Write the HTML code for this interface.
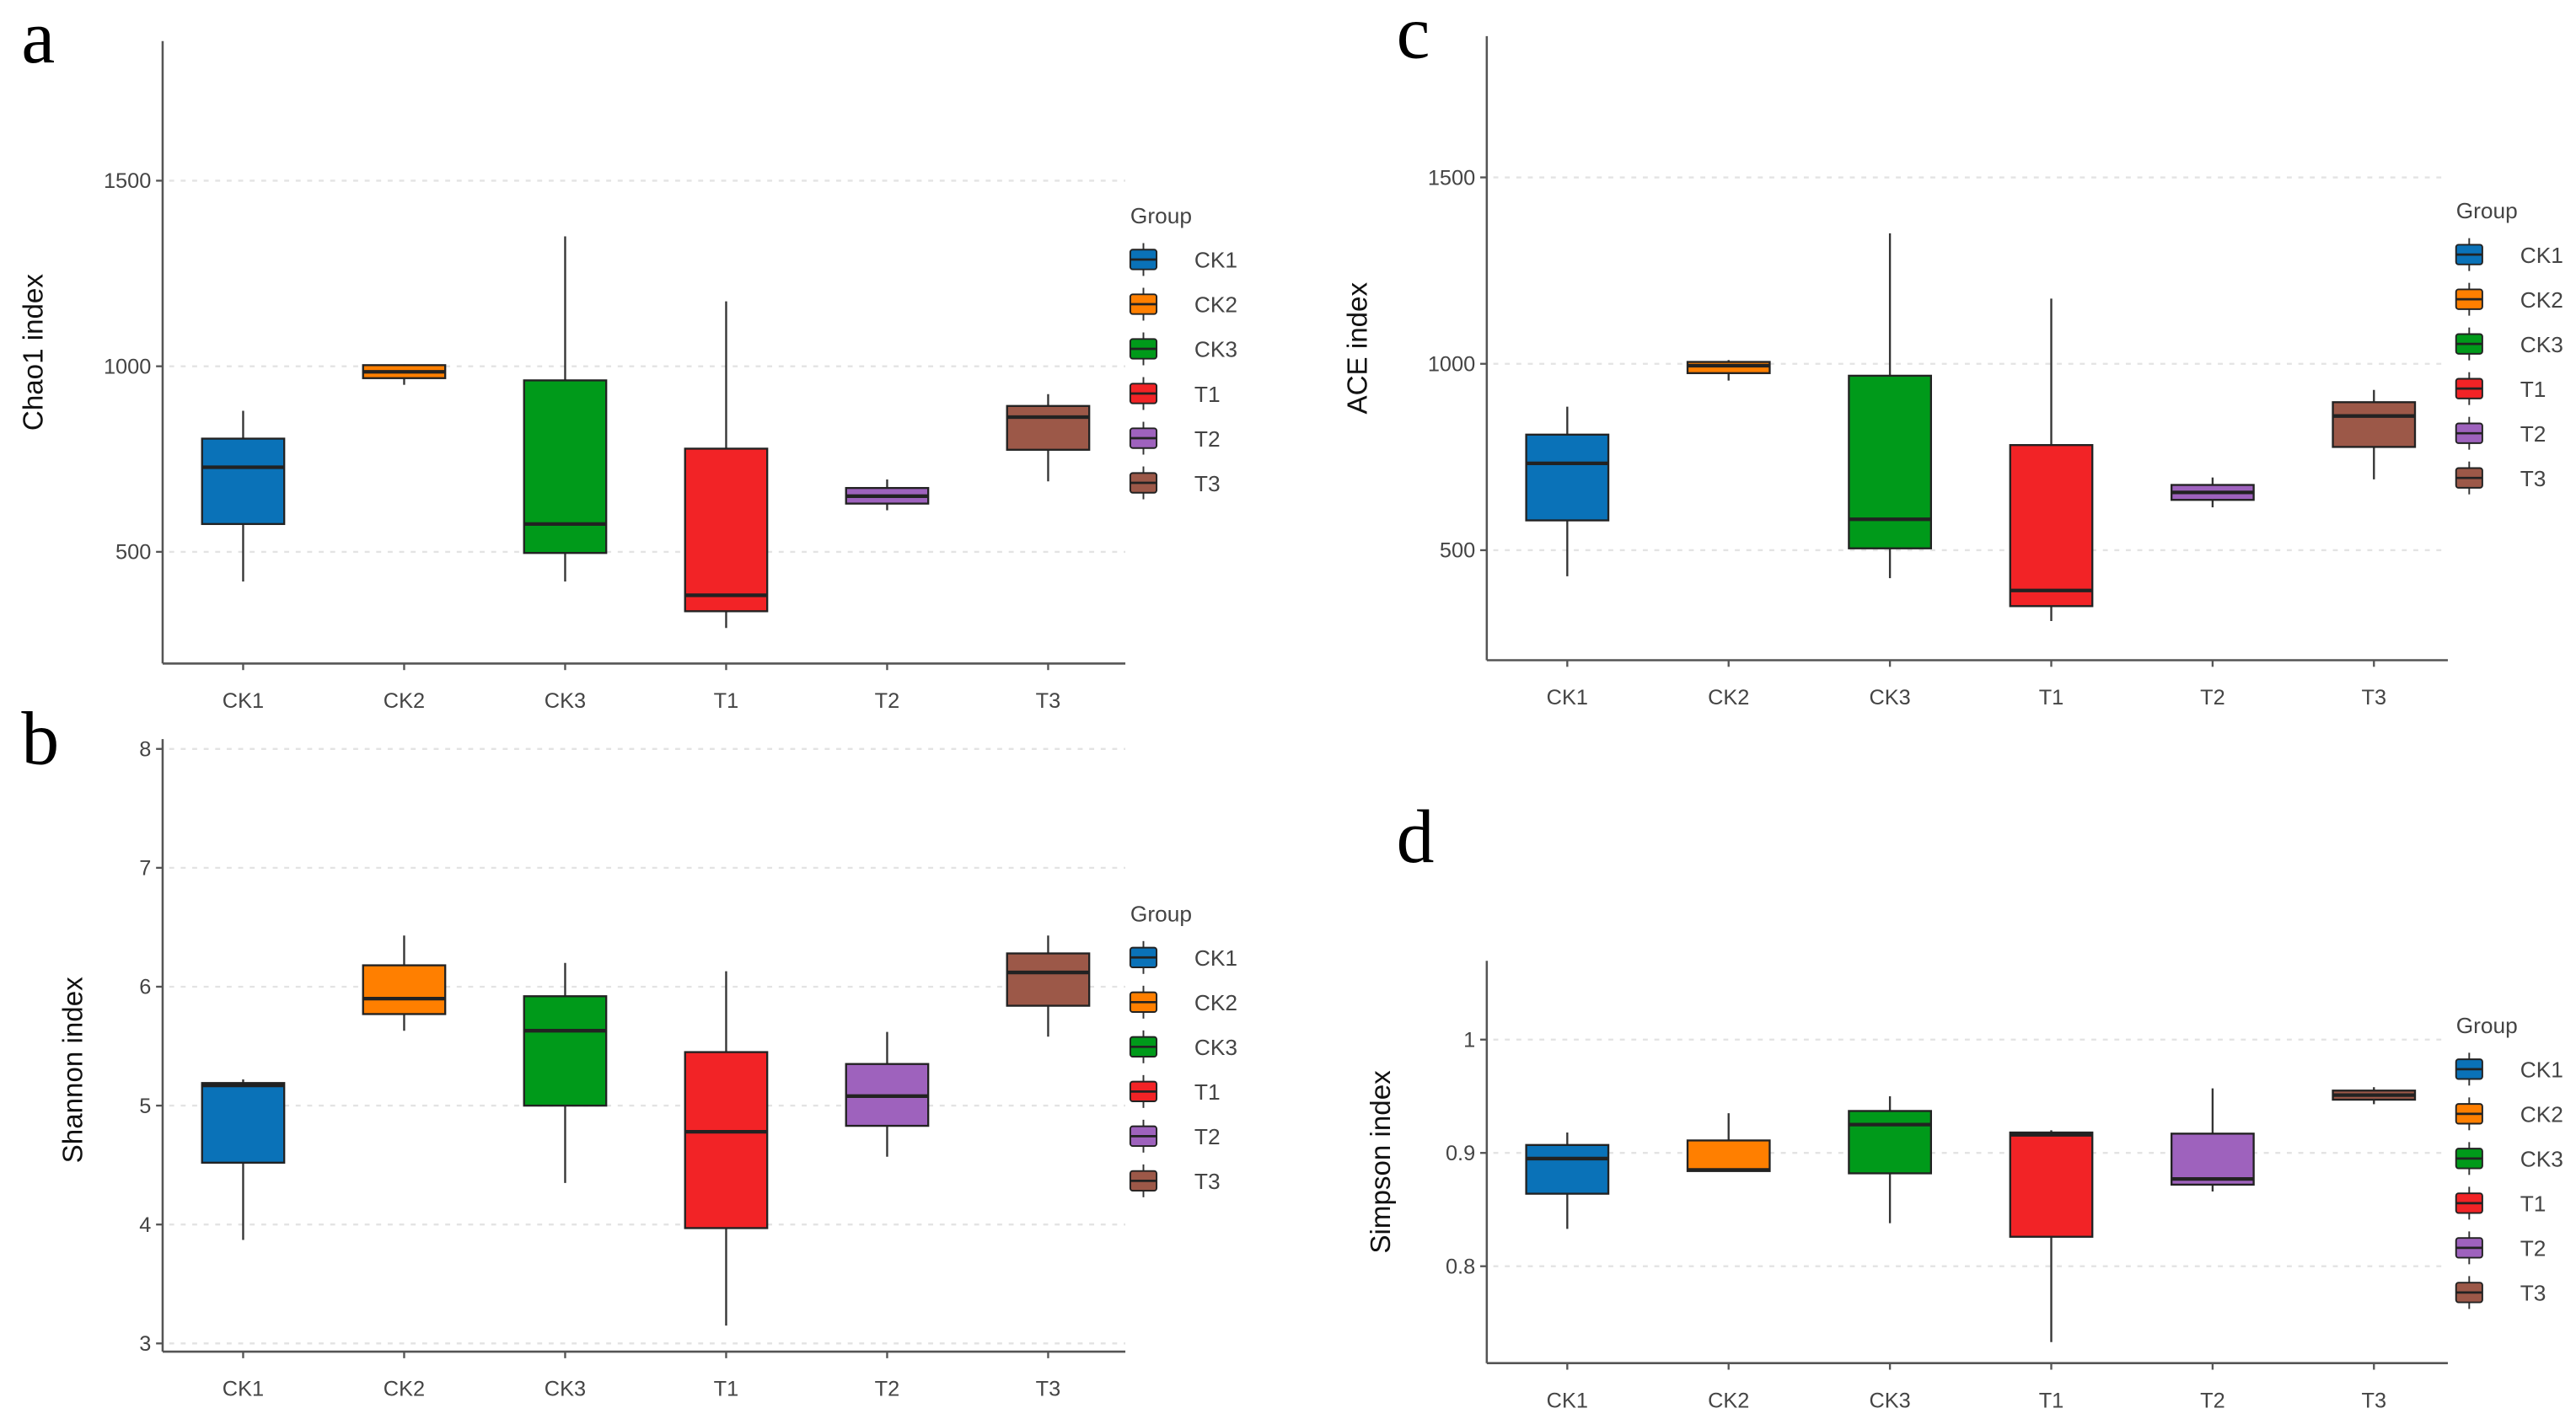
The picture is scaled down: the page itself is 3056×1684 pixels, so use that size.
<!DOCTYPE html>
<html><head><meta charset="utf-8">
<style>
html,body{margin:0;padding:0;background:#fff;}
svg{display:block;}
text{font-family:"Liberation Sans",sans-serif;}
text.serif{font-family:"Liberation Serif",serif;}
</style></head>
<body>
<svg id="fig" width="3056" height="1684" viewBox="0 0 1568 864" xmlns="http://www.w3.org/2000/svg"></svg>
<script>
const groups = ["CK1","CK2","CK3","T1","T2","T3"];
const colors = ["#0a72b8","#ff7f00","#009a1a","#f22326","#9e62bd","#9c5848"];
// [whiskerLow, q1, median, q3, whiskerHigh]
const chao1Values = [[420,575,728,805,880],[950,968,985,1003,1005],[420,497,575,962,1350],[295,340,383,778,1175],[612,630,650,672,695],[690,775,863,893,925]];
const aceValues = [[430,580,733,810,885],[955,975,995,1005,1010],[425,505,583,968,1350],[310,350,392,782,1175],[615,635,655,675,695],[690,777,860,897,930]];
const shannonValues = [[3.87,4.52,5.17,5.19,5.22],[5.63,5.77,5.9,6.18,6.43],[4.35,5.0,5.63,5.92,6.2],[3.15,3.97,4.78,5.45,6.13],[4.57,4.83,5.08,5.35,5.62],[5.58,5.84,6.12,6.28,6.43]];
const simpsonValues = [[0.833,0.864,0.895,0.907,0.918],[0.884,0.884,0.885,0.911,0.935],[0.838,0.882,0.925,0.937,0.95],[0.733,0.826,0.916,0.918,0.92],[0.866,0.872,0.877,0.917,0.957],[0.943,0.947,0.951,0.955,0.958]];
const chaoTicks = [500,1000,1500];
const aceTicks = [500,1000,1500];
const shannonTicks = [3,4,5,6,7,8];
const simpsonTicks = [0.8,0.9,1];
const simpsonTickLabels = ["0.8","0.9","1"];

const NS="http://www.w3.org/2000/svg";
const svg=document.getElementById('fig');
function el(tag,attrs,parent){const e=document.createElementNS(NS,tag);for(const k in attrs)e.setAttribute(k,attrs[k]);(parent||svg).appendChild(e);return e;}

const panels=[
 {id:'a',letter:'a',lx:13,ly:38,title:'Chao1 index',data:chao1Values,ticks:chaoTicks,labels:null,ax:99,top:25,bottom:404,right:685,v0:500,y0:336,v1:1500,y1:110,cx0:148,dx:98,legX:688,legY:131,titleX:20},
 {id:'b',letter:'b',lx:13,ly:465,title:'Shannon index',data:shannonValues,ticks:shannonTicks,labels:null,ax:99,top:450,bottom:823,right:685,v0:3,y0:818,v1:8,y1:456,cx0:148,dx:98,legX:688,legY:556,titleX:44},
 {id:'c',letter:'c',lx:850,ly:35,title:'ACE index',data:aceValues,ticks:aceTicks,labels:null,ax:905,top:22,bottom:402,right:1490,v0:500,y0:335,v1:1500,y1:108,cx0:954,dx:98.2,legX:1495,legY:128,titleX:826},
 {id:'d',letter:'d',lx:850,ly:525,title:'Simpson index',data:simpsonValues,ticks:simpsonTicks,labels:simpsonTickLabels,ax:905,top:585,bottom:830,right:1490,v0:0.8,y0:771,v1:1,y1:633,cx0:954,dx:98.2,legX:1495,legY:624,titleX:840}
];

panels.forEach(p=>{
  const g=el('g',{});
  
  
  const yS=v=>p.y0+(v-p.v0)*(p.y1-p.y0)/(p.v1-p.v0);
  const xS=i=>p.cx0+i*p.dx;
  const L=el('text',{x:p.lx,y:p.ly,'font-size':46,'class':'serif',style:'font-family:"Liberation Serif",serif',fill:'#000'},g);
  L.textContent=p.letter;
  
  
  p.ticks.forEach((t,i)=>{
    const y=yS(t);
    const gl=el('line',{x1:p.ax+4,x2:p.right,y1:y,y2:y,stroke:'#e3e3e3','stroke-width':1.2,'stroke-dasharray':'3,4'},g);
    
    
    el('line',{x1:p.ax-4,x2:p.ax,y1:y,y2:y,stroke:'#555','stroke-width':1.2},g);
    const tx=el('text',{x:p.ax-7,y:y+4.5,'font-size':13,fill:'#444','text-anchor':'end'},g);
    tx.textContent=p.labels?p.labels[i]:String(t);
    
    
  });
  const ya=el('line',{x1:p.ax,x2:p.ax,y1:p.top,y2:p.bottom,stroke:'#555','stroke-width':1.3},g);
  
  
  const xa=el('line',{x1:p.ax,x2:p.right,y1:p.bottom,y2:p.bottom,stroke:'#555','stroke-width':1.3},g);
  
  
  const midY=(p.top+p.bottom)/2+(p.id==='b'?15:0);
  const yt=el('text',{x:0,y:0,'font-size':17,fill:'#111','text-anchor':'middle',transform:`translate(${p.titleX+6},${midY}) rotate(-90)`},g);
  yt.textContent=p.title;
  
  
  p.data.forEach((d,i)=>{
    const x=xS(i),w=25;
    const bg=el('g',{},g);
    
    
    el('line',{x1:x,x2:x,y1:yS(d[0]),y2:yS(d[4]),stroke:'#333','stroke-width':1.2},bg);
    el('rect',{x:x-w,y:yS(d[3]),width:2*w,height:Math.max(1,yS(d[1])-yS(d[3])),fill:colors[i],stroke:'#222','stroke-width':1.2},bg);
    el('line',{x1:x-w,x2:x+w,y1:yS(d[2]),y2:yS(d[2]),stroke:'#222','stroke-width':2.2},bg);
    el('line',{x1:x,x2:x,y1:p.bottom,y2:p.bottom+4,stroke:'#555','stroke-width':1.2},g);
    const xl=el('text',{x:x,y:p.bottom+27,'font-size':13,fill:'#444','text-anchor':'middle'},g);
    xl.textContent=groups[i];
    
    
  });
  const lg=el('g',{},g);
  
  
  const gt=el('text',{x:p.legX,y:p.legY+5,'font-size':13.5,fill:'#444'},lg);
  gt.textContent='Group';
  
  
  groups.forEach((gname,i)=>{
    const cy=p.legY+27+i*27.2, kx=p.legX+8;
    const it=el('g',{},lg);
    
    
    el('line',{x1:kx,x2:kx,y1:cy-10,y2:cy+10,stroke:'#333','stroke-width':1},it);
    el('rect',{x:kx-8,y:cy-6,width:16,height:12,rx:1.5,fill:colors[i],stroke:'#222','stroke-width':1},it);
    el('line',{x1:kx-8,x2:kx+8,y1:cy,y2:cy,stroke:'#222','stroke-width':1.4},it);
    const t=el('text',{x:p.legX+39,y:cy+5,'font-size':13.5,fill:'#444'},it);
    t.textContent=gname;
  });
});
</script>
</body></html>
